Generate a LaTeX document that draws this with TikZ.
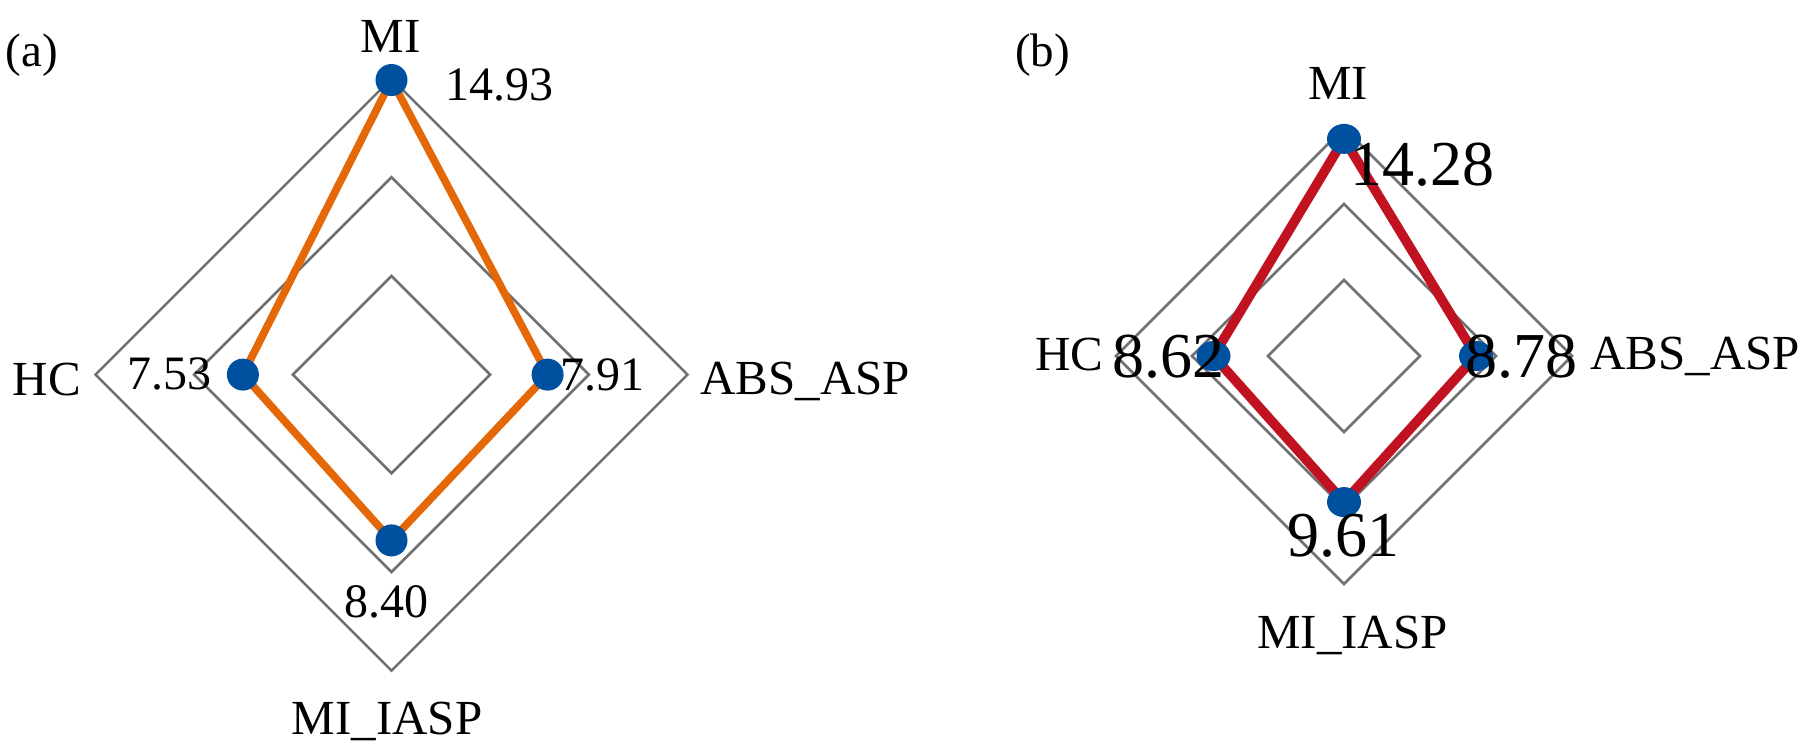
\documentclass[tikz,border=0pt]{standalone}
\usepackage{fontspec}
\usetikzlibrary{shapes.geometric}
\setmainfont{Liberation Serif}
\definecolor{gridgray}{RGB}{112,112,112}
\definecolor{dataorange}{RGB}{228,104,8}
\definecolor{datared}{RGB}{192,18,32}
\definecolor{dotblue}{RGB}{0,80,160}
\begin{document}
\begin{tikzpicture}[x=1pt,y=-1pt,
  grid/.style={draw=gridgray,line width=2.6pt,line join=miter},
  series/.style={line width=#1,line join=round},
  dota/.style={circle,fill=dotblue,inner sep=0pt,minimum size=32pt},
  dotb/.style={ellipse,fill=dotblue,inner sep=0pt,minimum width=34pt,minimum height=30pt},
  lbl/.style={inner sep=0pt,anchor=base west,font=\fontsize{49}{58}\selectfont},
  vala/.style={inner sep=0pt,anchor=base west,font=\fontsize{48}{58}\selectfont},
  valb/.style={inner sep=0pt,anchor=base west,font=\fontsize{64}{76}\selectfont},
  tag/.style={inner sep=0pt,anchor=base west,font=\fontsize{47}{56}\selectfont},
]
\useasboundingbox (0,0) rectangle (1806,750);
\fill[white] (0,0) rectangle (1806,750);

% ---------------- panel (a)
\coordinate (ca) at (391.5,374.6);
\foreach \r in {98.67,197.33,296}{
  \draw[grid] (ca) ++(0,-\r) -- ++(\r,\r) -- ++(-\r,\r) -- ++(-\r,-\r) -- cycle;
}
\coordinate (pMIa) at (391.5,80);
\coordinate (pABSa) at (547.6,374.6);
\coordinate (pIASPa) at (391.5,540.4);
\coordinate (pHCa) at (242.9,374.6);
\draw[series=7.7pt,dataorange] (pMIa) -- (pABSa) -- (pIASPa) -- (pHCa) -- cycle;
\node[dota] (dMIa) at (pMIa) {};
\node[dota] (dABSa) at (pABSa) {};
\node[dota] (dIASPa) at (pIASPa) {};
\node[dota] (dHCa) at (pHCa) {};

\node[tag] (taga) at (5.7,66) {(a)};
\node[lbl] (lMIa) at (360.5,52.6) {MI};
\node[lbl] (lHCa) at (12.6,395) {HC};
\node[lbl] (lABSa) at (700,394) {ABS\_ASP};
\node[lbl] (lIASPa) at (291.6,734) {MI\_IASP};
\node[vala] (vMIa) at (445,100) {14.93};
\node[vala] (vHCa) at (127,389) {7.53};
\node[vala] (vABSa) at (560,390) {7.91};
\node[vala] (vIASPa) at (344,617) {8.40};

% ---------------- panel (b)
\coordinate (cb) at (1344,356);
\foreach \r in {76,152,228}{
  \draw[grid] (cb) ++(0,-\r) -- ++(\r,\r) -- ++(-\r,\r) -- ++(-\r,-\r) -- cycle;
}
\coordinate (pMIb) at (1344,138.9);
\coordinate (pABSb) at (1476,356);
\coordinate (pIASPb) at (1344,502.1);
\coordinate (pHCb) at (1213.5,356);
\draw[series=9.6pt,datared] (pMIb) -- (pABSb) -- (pIASPb) -- (pHCb) -- cycle;
\node[dotb] (dMIb) at (pMIb) {};
\node[dotb] (dABSb) at (pABSb) {};
\node[dotb] (dIASPb) at (pIASPb) {};
\node[dotb] (dHCb) at (pHCb) {};

\node[tag] (tagb) at (1015,66) {(b)};
\node[lbl] (lMIb) at (1308,99) {MI};
\node[lbl] (lHCb) at (1035,370) {HC};
\node[lbl] (lABSb) at (1590,369.3) {ABS\_ASP};
\node[lbl] (lIASPb) at (1257,648) {MI\_IASP};
\node[valb] (vMIb) at (1350,185) {14.28};
\node[valb] (vHCb) at (1112,377) {8.62};
\node[valb] (vABSb) at (1465,377) {8.78};
\node[valb] (vIASPb) at (1287,556.7) {9.61};
\end{tikzpicture}
\end{document}
